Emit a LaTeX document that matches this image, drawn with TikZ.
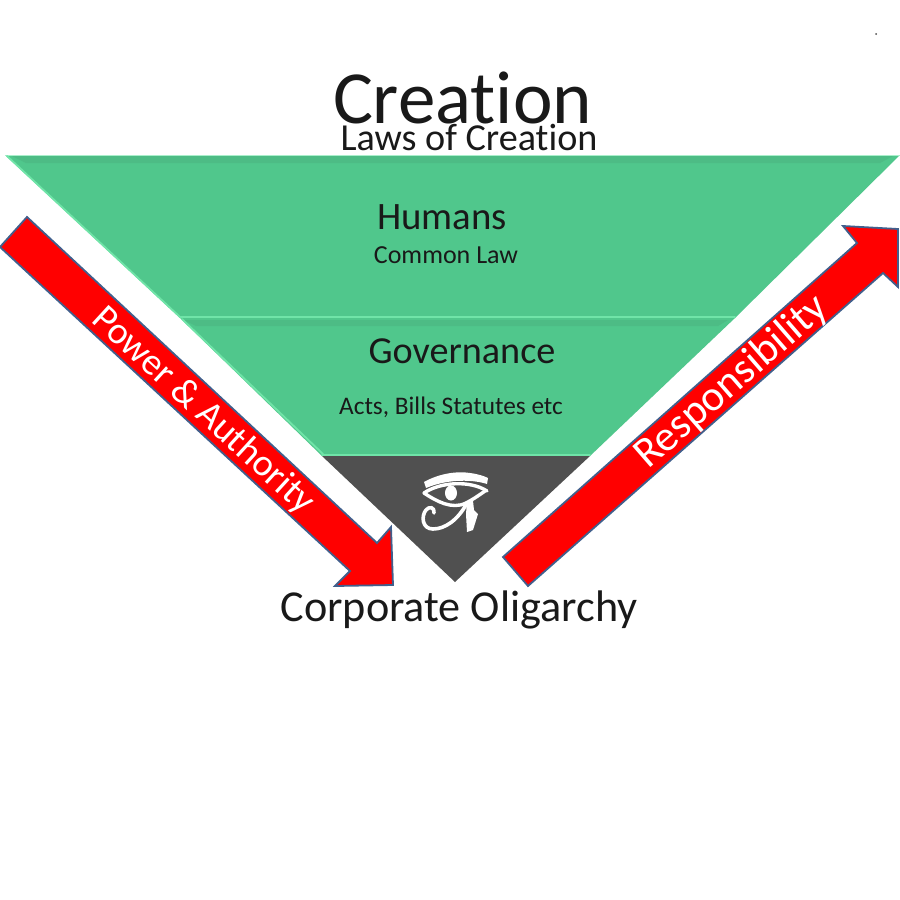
\documentclass[tikz,border=0pt]{standalone}
\usepackage{fontspec}
\setmainfont{Carlito}[Ligatures=NoCommon]
\definecolor{band}{RGB}{80,199,140}
\definecolor{bandhi}{RGB}{112,228,168}
\definecolor{bandlo}{RGB}{77,188,133}
\definecolor{dark}{RGB}{80,80,80}
\definecolor{edgeblue}{RGB}{65,95,140}
\definecolor{ink}{RGB}{25,25,25}
\tikzset{
  x=1pt,y=-1pt,
  bandshape/.style={fill=band,draw=none},
  hi/.style={draw=bandhi,line width=1.8pt,line cap=round},
  lo/.style={fill=bandlo,draw=none},
  arrowshape/.style={fill=red,draw=edgeblue,line width=1.8pt,line join=miter},
  lbl/.style={inner sep=0pt,text=ink,anchor=center},
  eyestroke/.style={draw=white,line cap=round,line join=round,fill=none},
  arrowtext/.style={inner sep=0pt,text=white}
}
\begin{document}
\begin{tikzpicture}
\useasboundingbox (0,0) rectangle (900,900);
\clip (0,0) rectangle (900,900);
\fill[white] (0,0) rectangle (900,900);
% bands
\fill[bandshape] (5,155) -- (900,155) -- (735,318) -- (180,318) -- cycle;
\fill[bandshape] (180,318) -- (735,318) -- (590,456) -- (322,456) -- cycle;
\fill[dark] (322,456) -- (590,456) -- (455,582) -- cycle;
% bevels
\fill[lo] (12,156) -- (893,156) -- (880,163) -- (26,163) -- cycle;
\fill[lo] (184,320) -- (728,320) -- (718,326) -- (196,326) -- cycle;
\draw[draw=bandhi!60!white,line width=1.4pt] (5,155.5) -- (900,155.5);
\draw[hi] (7,156) -- (180,317);
\draw[hi] (180,317) -- (735,317);
\draw[hi] (182,319) -- (323,454);
\draw[hi] (322,455) -- (590,455);
% arrows
\draw[arrowshape] (27,217) -- (377,543) -- (391,527) -- (393,585) -- (335,586) -- (350,571) -- (0,247) -- cycle;
\draw[arrowshape] (503,557) -- (857,243) -- (843,226) -- (898,229) -- (898,287) -- (883,273) -- (528,586) -- cycle;
% eye
\fill[white] (424,482) .. controls (440,473) and (458,471) .. (470,473) .. controls (478,474) and (484,476) .. (488,478) -- (487,484) .. controls (475,480) and (450,478) .. (426,488) -- cycle;
\draw[eyestroke,line width=3.4pt] (424,493) .. controls (440,482) and (470,480) .. (487,491);
\draw[eyestroke,line width=3.4pt] (424,493) .. controls (436,501) and (452,510) .. (466,503) .. controls (472,500) and (478,496) .. (485,491);
\fill[white] (451,493) ellipse (6 and 7.5);
\draw[eyestroke,line width=3.6pt] (467,503) .. controls (458,520) and (445,529) .. (433,529) .. controls (422,529) and (421,516) .. (426,510) .. controls (429,506) and (435,507) .. (434,513);
\fill[white] (467,501) -- (473,501) -- (474,510) -- (478,514) -- (473,530) -- (467,532) -- (466,514) -- cycle;
% dot
\fill[black!70] (876,34) circle (1);
% text
\node[lbl,font=\fontsize{75}{75}\selectfont] (title) at (462.5,98) {Creation};
\node[lbl,font=\fontsize{38.2}{39}\selectfont] (laws) at (469,137) {Laws of Creation};
\node[lbl,font=\fontsize{38.8}{39}\selectfont] (humans) at (442,217) {Humans};
\node[lbl,font=\fontsize{26}{26}\selectfont] (common) at (446,255) {Common Law};
\node[lbl,font=\fontsize{38.2}{39}\selectfont] (gov) at (462,351) {Governance};
\node[lbl,font=\fontsize{25.3}{26}\selectfont] (acts) at (451,407) {Acts, Bills Statutes etc};
\node[lbl,font=\fontsize{44.2}{45}\selectfont] (corp) at (459,610) {Corporate Oligarchy};
\node[arrowtext,font=\fontsize{38}{38}\selectfont,rotate=-42.5] (power) at (203,411) {Power \& Authority};
\node[arrowtext,font=\fontsize{43}{43}\selectfont,rotate=41] (resp) at (732,382) {Responsibility};
\end{tikzpicture}
\end{document}
